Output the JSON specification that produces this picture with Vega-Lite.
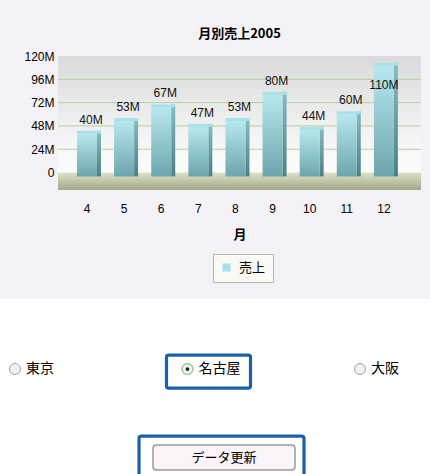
{
  "$schema": "https://vega.github.io/schema/vega-lite/v6.json",
  "background": "#f4f2f6",
  "padding": {"left": 0, "top": 28, "right": 0, "bottom": 0},
  "spacing": 15,
  "resolve": {"legend": {"color": "independent"}, "scale": {"x": "independent", "y": "independent"}},
  "config": {"font": "Liberation Sans", "view": {"stroke": null}},
  "vconcat": [
    {
      "width": 363,
      "height": 134,
      "view": {"fill": {"gradient": "linear", "x1": 0, "y1": 0, "x2": 0, "y2": 1, "stops": [{"offset": 0, "color": "#dadada"}, {"offset": 0.7, "color": "#f8f8f8"}, {"offset": 1, "color": "#ffffff"}]}, "stroke": null},
      "title": {"text": "月別売上2005", "font": "Noto Sans CJK JP", "fontSize": 13, "fontWeight": "bold", "color": "#000000", "offset": 9},
      "data": {"values": [
        {"month": 4, "sales": 40000000, "label": "40M"},
        {"month": 5, "sales": 53000000, "label": "53M"},
        {"month": 6, "sales": 67000000, "label": "67M"},
        {"month": 7, "sales": 47000000, "label": "47M"},
        {"month": 8, "sales": 53000000, "label": "53M"},
        {"month": 9, "sales": 80000000, "label": "80M"},
        {"month": 10, "sales": 44000000, "label": "44M"},
        {"month": 11, "sales": 60000000, "label": "60M"},
        {"month": 12, "sales": 110000000, "label": "110M"}
      ]},
      "layer": [
        {
          "data": {"values": [{"tick": 24000000}, {"tick": 48000000}, {"tick": 72000000}, {"tick": 96000000}]},
          "mark": {"type": "rule", "color": "#b6cf9a", "strokeWidth": 1},
          "encoding": {
            "y": {"field": "tick", "type": "quantitative",
              "scale": {"domain": [-18000000, 120000000], "nice": false, "zero": false},
              "axis": {"values": [0, 24000000, 48000000, 72000000, 96000000, 120000000], "tickCount": 6,
                "labelExpr": "datum.value == 0 ? '0' : (datum.value / 1000000) + 'M'",
                "labelOverlap": false, "grid": false,
                "title": null, "ticks": false, "domain": false, "labelPadding": 4,
                "labelFontSize": 12, "labelColor": "#000000",
                "minExtent": 58}}
          }
        },
        {
          "data": {"values": [{}]},
          "mark": {"type": "rect", "color": {"gradient": "linear", "x1": 0, "y1": 0, "x2": 0, "y2": 1, "stops": [{"offset": 0, "color": "#dde2c8"}, {"offset": 1, "color": "#a3a888"}]}},
          "encoding": {
            "y": {"datum": -18000000, "type": "quantitative"},
            "y2": {"datum": 0}
          }
        },
        {
          "mark": {"type": "bar", "size": 4, "xOffset": 12, "yOffset": -3, "color": {"gradient": "linear", "x1": 0, "y1": 0, "x2": 0, "y2": 1, "stops": [{"offset": 0, "color": "#82bcc4"}, {"offset": 1, "color": "#4a8189"}]}},
          "encoding": {
            "x": {"field": "month", "type": "ordinal", "title": "月",
              "scale": {"paddingInner": 0, "paddingOuter": 0.39, "align": 0.36},
              "axis": {"labelAngle": 0, "ticks": false, "domain": false, "labelPadding": 13, "labelFontSize": 12, "labelColor": "#000000",
                "titleFont": "Noto Sans CJK JP", "titleFontSize": 13, "titleFontWeight": "bold", "titlePadding": 14, "titleColor": "#000000"}},
            "y": {"field": "sales", "type": "quantitative"},
            "y2": {"datum": -4000000}
          }
        },
        {
          "mark": {"type": "bar", "size": 20, "color": {"gradient": "linear", "x1": 0, "y1": 0, "x2": 0, "y2": 1, "stops": [{"offset": 0, "color": "#b8e8ee"}, {"offset": 1, "color": "#6da5ac"}]}},
          "encoding": {
            "x": {"field": "month", "type": "ordinal"},
            "y": {"field": "sales", "type": "quantitative"},
            "y2": {"datum": -4000000}
          }
        },
        {
          "mark": {"type": "tick", "size": 24, "thickness": 3, "xOffset": 2, "yOffset": -1.5, "opacity": 1},
          "encoding": {
            "x": {"field": "month", "type": "ordinal"},
            "y": {"field": "sales", "type": "quantitative"},
            "color": {"datum": "売上", "scale": {"range": ["#a4e1ea"]},
              "legend": {"orient": "none", "legendX": 155, "legendY": 198, "direction": "horizontal", "title": null,
                "symbolType": "square", "symbolSize": 64, "symbolStrokeWidth": 0,
                "labelFont": "Noto Sans CJK JP", "labelFontSize": 13, "labelColor": "#000000", "labelOffset": 6,
                "strokeColor": "#b4baa2", "fillColor": "#fafaf4", "padding": 7}}
          }
        },
        {
          "transform": [{"filter": "datum.sales < 100000000"}],
          "mark": {"type": "text", "baseline": "bottom", "dy": -7, "xOffset": 4, "fontSize": 12, "color": "#111111"},
          "encoding": {
            "x": {"field": "month", "type": "ordinal"},
            "y": {"field": "sales", "type": "quantitative"},
            "text": {"field": "label"}
          }
        },
        {
          "transform": [{"filter": "datum.sales >= 100000000"}],
          "mark": {"type": "text", "baseline": "top", "dy": 14, "xOffset": 0, "fontSize": 12, "color": "#111111"},
          "encoding": {
            "x": {"field": "month", "type": "ordinal"},
            "y": {"field": "sales", "type": "quantitative"},
            "text": {"field": "label"}
          }
        }
      ]
    },
    {
      "width": 372,
      "height": 178,
      "view": {"fill": "#ffffff", "stroke": null},
      "data": {"values": [
        {"kind": "radio", "label": "東京", "selected": false},
        {"kind": "radio", "label": "名古屋", "selected": true},
        {"kind": "radio", "label": "大阪", "selected": false},
        {"kind": "button", "label": "データ更新", "selected": false}
      ]},
      "layer": [
        {
          "data": {"values": [{}]},
          "mark": {"type": "point", "shape": "M-1,-0.414H1V0.414H-1Z", "size": 184900, "filled": true, "fill": "#ffffff", "strokeWidth": 0, "opacity": 1, "xOffset": -29}
        },
        {
          "transform": [{"filter": "datum.kind == 'radio' && datum.selected"}],
          "mark": {"type": "point", "shape": "M-0.95,-0.393H0.95Q1,-0.393 1,-0.343V0.343Q1,0.393 0.95,0.393H-0.95Q-1,0.393 -1,0.343V-0.343Q-1,-0.393 -0.95,-0.393Z", "size": 7056, "filled": false, "stroke": "#1a62a8", "strokeWidth": 3.2, "opacity": 1, "xOffset": 21, "yOffset": 2.5},
          "encoding": {
            "x": {"field": "label", "type": "nominal", "scale": {"type": "point", "domain": ["東京", "名古屋", "大阪"], "range": [-43, 302], "padding": 0}, "axis": null},
            "y": {"field": "kind", "type": "nominal", "scale": {"type": "point", "domain": ["radio", "button"], "padding": 0.5, "align": 0.787}, "axis": null}
          }
        },
        {
          "transform": [{"filter": "datum.kind == 'radio'"}],
          "mark": {"type": "point", "shape": "circle", "size": 120, "filled": true, "fill": "#f2f2f2", "stroke": "#a0a0a0", "strokeWidth": 1, "opacity": 1},
          "encoding": {"x": {"field": "label", "type": "nominal"}, "y": {"field": "kind", "type": "nominal"}}
        },
        {
          "transform": [{"filter": "datum.kind == 'radio' && datum.selected"}],
          "mark": {"type": "point", "shape": "circle", "size": 120, "filled": false, "stroke": "#9fd39a", "strokeWidth": 1.5, "opacity": 1},
          "encoding": {"x": {"field": "label", "type": "nominal"}, "y": {"field": "kind", "type": "nominal"}}
        },
        {
          "transform": [{"filter": "datum.kind == 'radio' && datum.selected"}],
          "mark": {"type": "point", "shape": "circle", "size": 14, "filled": true, "fill": "#222222", "opacity": 1},
          "encoding": {"x": {"field": "label", "type": "nominal"}, "y": {"field": "kind", "type": "nominal"}}
        },
        {
          "transform": [{"filter": "datum.kind == 'radio'"}],
          "mark": {"type": "text", "align": "left", "baseline": "middle", "xOffset": 11, "font": "Noto Sans CJK JP", "fontSize": 14, "color": "#000000"},
          "encoding": {"x": {"field": "label", "type": "nominal"}, "y": {"field": "kind", "type": "nominal"}, "text": {"field": "label"}}
        },
        {
          "transform": [{"filter": "datum.kind == 'button'"}],
          "mark": {"type": "point", "shape": "M-0.97,-0.303H0.97Q1,-0.303 1,-0.273V0.273Q1,0.303 0.97,0.303H-0.97Q-1,0.303 -1,0.273V-0.273Q-1,-0.303 -0.97,-0.303Z", "size": 27225, "filled": false, "stroke": "#1a62a8", "strokeWidth": 3.2, "opacity": 1, "xOffset": -22.5, "yOffset": 3, "clip": true},
          "encoding": {"y": {"field": "kind", "type": "nominal"}}
        },
        {
          "transform": [{"filter": "datum.kind == 'button'"}],
          "mark": {"type": "point", "shape": "M-0.95,-0.176H0.95Q1,-0.176 1,-0.126V0.126Q1,0.176 0.95,0.176H-0.95Q-1,0.176 -1,0.126V-0.126Q-1,-0.176 -0.95,-0.176Z", "size": 20164, "filled": true, "fill": "#fbf5fa", "stroke": "#9a9a9a", "strokeWidth": 1.5, "opacity": 1, "xOffset": -20, "yOffset": -0.5},
          "encoding": {"y": {"field": "kind", "type": "nominal"}}
        },
        {
          "transform": [{"filter": "datum.kind == 'button'"}],
          "mark": {"type": "text", "align": "center", "baseline": "middle", "xOffset": -20, "font": "Noto Sans CJK JP", "fontSize": 13, "color": "#000000"},
          "encoding": {"y": {"field": "kind", "type": "nominal"}, "text": {"field": "label"}}
        }
      ]
    }
  ]
}
